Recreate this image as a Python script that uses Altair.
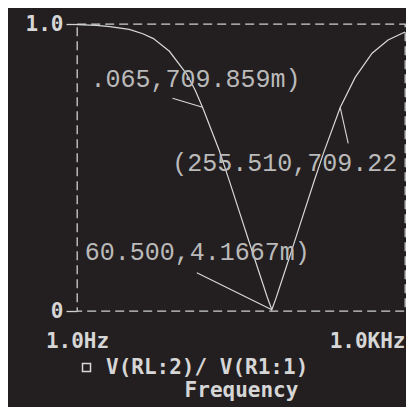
import altair as alt
import pandas as pd

# ---- data ----
freq = [1, 1.5, 2, 3, 4, 5, 7, 10, 12, 14.065, 20, 25, 30, 40, 50, 55, 60.5, 66, 75, 90, 120, 150,
        180, 255.51, 350, 500, 700, 1000]
mag = [0.998, 0.995, 0.991, 0.981, 0.966, 0.949, 0.905, 0.827, 0.771, 0.710, 0.559, 0.448, 0.355,
       0.208, 0.096, 0.048, 0.0042, 0.044, 0.108, 0.200, 0.347, 0.461, 0.551, 0.709, 0.814, 0.898,
       0.944, 0.972]
series_name = "V(RL:2)/ V(R1:1)"

marker_freq = [14.065, 255.51, 60.5]
marker_mag = [0.709859, 0.70922, 0.0041667]
marker_text = [".065,709.859m)", "(255.510,709.22", "60.500,4.1667m)"]

x_tick_values = [1, 1000]
x_tick_labels = ["1.0Hz", "1.0KHz"]
y_tick_values = [0, 1]
y_tick_labels = ["0", "1.0"]
x_title = "Frequency"

# ---- styles ----
BG = "#231f20"
CURVE = "#d8d8d8"
TXT = "#bababa"
AXTXT = "#d6d6d6"
MONO = "DejaVu Sans Mono"
ANN_FONT = "Liberation Mono"
FS = 21

curve_df = pd.DataFrame({"freq": freq, "mag": mag, "series": [series_name] * len(freq)})
mark_df = pd.DataFrame({"freq": marker_freq, "mag": marker_mag, "label": marker_text,
                        "idx": list(range(len(marker_freq)))})

x_label_expr = f"datum.value == {x_tick_values[0]} ? '{x_tick_labels[0]}' : '{x_tick_labels[1]}'"
y_label_expr = f"datum.value == {y_tick_values[1]} ? '{y_tick_labels[1]}' : '{y_tick_labels[0]}'"

xscale = alt.Scale(type="log", domain=[x_tick_values[0], x_tick_values[1]], nice=False)
yscale = alt.Scale(domain=[y_tick_values[0], y_tick_values[1]], nice=False, zero=True)

x_axis = alt.Axis(
    values=x_tick_values, labelExpr=x_label_expr, ticks=False, grid=False, domain=False,
    labelFont=MONO, labelFontWeight="bold", labelFontSize=FS, labelColor=AXTXT,
    labelPadding=19, labelFlush=False, labelOverlap=False, labelBound=False,
    labelAlign={"condition": {"test": f"datum.value == {x_tick_values[0]}", "value": "center"}, "value": "right"},
    title=x_title, titleFont=MONO, titleFontWeight="bold", titleFontSize=FS, titleColor=AXTXT,
    titleBaseline="middle", titleY=79,
)
y_axis = alt.Axis(
    values=y_tick_values, labelExpr=y_label_expr, grid=False, domain=False,
    ticks=True, tickSize=11, tickColor="#cfcfcf", tickWidth=1.3,
    labelFont=MONO, labelFontWeight="bold", labelFontSize=FS, labelColor=AXTXT,
    labelPadding=3, labelFlush=False, labelOverlap=False, labelBound=False, title=None,
)

curve = alt.Chart(curve_df).mark_line(strokeWidth=1.2).encode(
    x=alt.X("freq:Q", scale=xscale, axis=x_axis),
    y=alt.Y("mag:Q", scale=yscale, axis=y_axis),
    color=alt.Color("series:N", scale=alt.Scale(range=[CURVE]), legend=alt.Legend(
        orient="none", legendX=-1, legendY=333, title=None, padding=0,
        symbolType="square", symbolSize=64, symbolFillColor=BG, symbolStrokeColor="#cfcfcf",
        symbolStrokeWidth=1.5, labelFont=MONO, labelFontWeight="bold", labelFontSize=FS,
        labelColor=AXTXT, labelOffset=9, labelLimit=400,
    )),
)

# offsets of each marker's label and leader line from its point
lead = [(-30, -9), (8, 36), (-75, -37)]
txt = [(-112, -28), (-168, 56), (-187, -58)]

layers = [curve]
for i in range(len(marker_freq)):
    base = alt.Chart(mark_df).transform_filter(f"datum.idx == {i}")
    layers.append(base.mark_rule(color=CURVE, strokeWidth=1.1,
                                 x2Offset=lead[i][0], y2Offset=lead[i][1]).encode(
        x=alt.X("freq:Q", scale=xscale), x2="freq:Q",
        y=alt.Y("mag:Q", scale=yscale), y2="mag:Q"))
    layers.append(base.mark_text(font=ANN_FONT, fontSize=25, color=TXT, align="left",
                                 baseline="middle", dx=txt[i][0], dy=txt[i][1]).encode(
        x=alt.X("freq:Q", scale=xscale), y=alt.Y("mag:Q", scale=yscale), text="label:N"))

chart = alt.layer(*layers).properties(
    width=328, height=287, autosize="none",
    padding={"left": 69, "top": 16, "right": 1, "bottom": 96},
    background=BG,
).configure_view(stroke="#cfcfcf", strokeDash=[9, 5], strokeWidth=1.3)

chart.save("out.html", embed_options={"renderer": "svg", "actions": False})
